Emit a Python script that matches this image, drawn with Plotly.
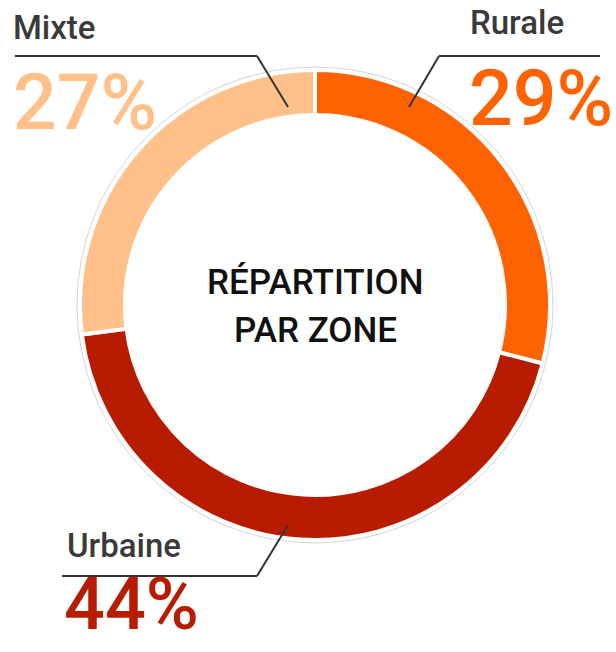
import plotly.graph_objects as go

# Data
zones = ["Rurale", "Urbaine", "Mixte"]
shares = [29, 44, 27]
colors = ["#FF6200", "#B81C00", "#FFC08A"]
center_lines = ["RÉPARTITION", "PAR ZONE"]

W, H = 616, 652
def px(x):
    return x / W
def py(y):
    return 1 - y / H

cx, cy, R = 315, 305, 235

fig = go.Figure(go.Pie(
    labels=zones, values=shares, sort=False, direction="clockwise", rotation=0,
    hole=0.8085, textinfo="none", hoverinfo="label+percent",
    marker=dict(colors=colors, line=dict(color="white", width=4)),
    domain=dict(x=[px(cx - R), px(cx + R)], y=[py(cy + R), py(cy - R)]),
    showlegend=False,
))

shapes = []
# faint outer ring
rg = 238
shapes.append(dict(type="circle", xref="paper", yref="paper",
                   x0=px(cx - rg), x1=px(cx + rg), y0=py(cy + rg), y1=py(cy - rg),
                   line=dict(color="#d4d4d4", width=1), layer="below"))
lc = dict(color="#333333", width=2)
def seg(x0, y0, x1, y1):
    shapes.append(dict(type="line", xref="paper", yref="paper",
                       x0=px(x0), y0=py(y0), x1=px(x1), y1=py(y1), line=lc))
# leader lines
seg(15, 56, 257, 56); seg(257, 56, 288, 107)
seg(439, 56, 600, 56); seg(439, 56, 409, 107)
seg(62, 576, 257, 576); seg(257, 576, 288, 525)

ann = []
def text(t, x, y, size, color, weight="normal", xanchor="left"):
    ann.append(dict(text=t, x=px(x), y=py(y), xref="paper", yref="paper",
                    xanchor=xanchor, yanchor="middle", showarrow=False,
                    font=dict(family="Roboto", size=size, color=color, weight=weight)))

lab_color = "#3a3a3a"
text(zones[2], 11, 27.5, 33, lab_color, 500)
text(zones[0], 468, 22.5, 33, lab_color, 500)
text(zones[1], 65, 545, 33, lab_color, 500)

text(f"{shares[2]}%", 11, 103, 77, colors[2], 500)
text(f"{shares[0]}%", 467, 99, 77, colors[0], 500)
text(f"{shares[1]}%", 62, 604, 72, colors[1], 500)

text(center_lines[0], 315, 282.5, 35, "#111111", 500, "center")
text(center_lines[1], 315, 330, 35, "#111111", 500, "center")

fig.update_layout(width=W, height=H, margin=dict(l=0, r=0, t=0, b=0),
                  paper_bgcolor="white", plot_bgcolor="white",
                  shapes=shapes, annotations=ann)
fig.write_html("out.html")
